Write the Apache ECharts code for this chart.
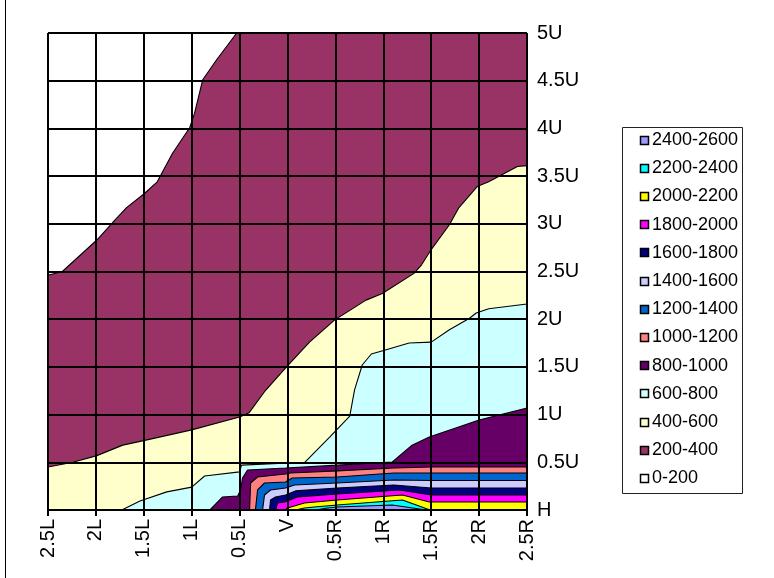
<!DOCTYPE html>
<html>
<head>
<meta charset="utf-8">
<script src="https://cdn.jsdelivr.net/npm/echarts@6/dist/echarts.min.js"></script>
<style>
  html, body { margin: 0; padding: 0; background: #fff; }
  #chart { width: 774px; height: 578px; }
</style>
</head>
<body>
<div id="chart"></div>
<script>
// Axis tick labels
const xLabels = ['2.5L', '2L', '1.5L', '1L', '0.5L', 'V', '0.5R', '1R', '1.5R', '2R', '2.5R'];
const yLabels = ['H', '0.5U', '1U', '1.5U', '2U', '2.5U', '3U', '3.5U', '4U', '4.5U', '5U'];

// Contour bands, lowest value first
const levels = ['0-200', '200-400', '400-600', '600-800', '800-1000', '1000-1200', '1200-1400',
                '1400-1600', '1600-1800', '1800-2000', '2000-2200', '2200-2400', '2400-2600'];
const colors = ['#FFFFFF', '#993366', '#FFFFCC', '#CCFFFF', '#660066', '#FF8080', '#0066CC',
                '#CCCCFF', '#000080', '#FF00FF', '#FFFF00', '#00FFFF', '#9999FF'];

// Upper edge of each band's region (value >= lower bound lies below the edge), [x, y]
const edge0 = [[-2.5, 5], [2.5, 5]];
const edge200 = [[-2.5, 2.46], [-2.35, 2.5], [-1.99, 2.83], [-1.8, 3.04], [-1.68, 3.17], [-1.49, 3.32],
  [-1.36, 3.44], [-1.2, 3.74], [-1.02, 4.01], [-0.97, 4.16], [-0.885, 4.51], [-0.74, 4.72],
  [-0.53, 5.0], [2.5, 5.0]];
const edge400 = [[-2.5, 0.45], [-2.24, 0.5], [-1.99, 0.57], [-1.72, 0.68], [-1.49, 0.73], [-1.0, 0.84],
  [-0.5, 0.975], [-0.4, 1.02], [-0.24, 1.24], [-0.01, 1.5], [0.23, 1.76], [0.49, 1.99], [0.82, 2.2],
  [0.99, 2.27], [1.32, 2.48], [1.4, 2.57], [1.5, 2.73], [1.69, 2.99], [1.79, 3.17], [1.98, 3.39],
  [2.1, 3.44], [2.4, 3.6], [2.5, 3.61]];
const edge600 = [[-2.5, 0], [-1.73, 0], [-1.54, 0.094], [-1.26, 0.19], [-1.0, 0.24], [-0.865, 0.356],
  [-0.5, 0.4], [-0.48, 0.47], [0.18, 0.5], [0.44, 0.765], [0.65, 0.985], [0.7, 1.26], [0.78, 1.52],
  [0.875, 1.635], [1.03, 1.68], [1.27, 1.75], [1.5, 1.76], [1.69, 1.89], [1.9, 2.01], [1.97, 2.065],
  [2.1, 2.11], [2.5, 2.16]];
const edge800 = [[-2.5, 0], [-0.81, 0], [-0.68, 0.136], [-0.52, 0.147], [-0.49, 0.21], [-0.47, 0.335],
  [-0.417, 0.42], [-0.02, 0.44], [0.52, 0.47], [1.094, 0.503], [1.3, 0.68], [1.48, 0.765],
  [2.0, 0.943], [2.5, 1.07]];
const edge1000 = [[-2.5, 0], [-0.396, 0], [-0.385, 0.283], [-0.3125, 0.346], [-0.02, 0.377],
  [0.03, 0.388], [0.52, 0.41], [1.11, 0.44], [1.5, 0.45], [2.5, 0.45]];
const edge1200 = [[-2.5, 0], [-0.335, 0], [-0.3125, 0.21], [-0.24, 0.283], [-0.02, 0.293],
  [0.05, 0.335], [0.52, 0.346], [1.11, 0.388], [1.5, 0.388], [2.5, 0.388]];
const edge1400 = [[-2.5, 0], [-0.26, 0], [-0.24, 0.157], [-0.177, 0.21], [-0.02, 0.23], [0.073, 0.262],
  [0.52, 0.283], [1.11, 0.314], [1.5, 0.309], [2.5, 0.309]];
const edge1600 = [[-2.5, 0], [-0.1875, 0], [-0.177, 0.105], [-0.125, 0.136], [-0.02, 0.157],
  [0.083, 0.2], [0.52, 0.23], [1.11, 0.262], [1.5, 0.23], [2.5, 0.23]];
const edge1800 = [[-2.5, 0], [-0.125, 0], [-0.104, 0.073], [-0.03, 0.084], [0.104, 0.136],
  [0.52, 0.168], [1.17, 0.21], [1.5, 0.157], [2.5, 0.157]];
const edge2000 = [[-2.5, 0], [-0.03, 0], [0, 0.021], [0.177, 0.073], [0.52, 0.105], [1.2, 0.157],
  [1.48, 0.084], [2.5, 0.084]];
const edge2200 = [[-2.5, 0], [0.083, 0], [0.177, 0.021], [0.28, 0.031], [0.52, 0.052], [1.2, 0.105],
  [1.46, 0.01], [1.5, 0], [2.5, 0]];
const edge2400 = [[-2.5, 0], [0.29, 0], [0.417, 0.021], [0.52, 0.031], [1.094, 0.052], [1.45, 0], [2.5, 0]];

const edges = [edge0, edge200, edge400, edge600, edge800, edge1000, edge1200,
               edge1400, edge1600, edge1800, edge2000, edge2200, edge2400];

const FONT = '"Liberation Sans", Arial, sans-serif';

const chart = echarts.init(document.getElementById('chart'), null, { renderer: 'canvas' });

// Each band is an area filled down to the bottom axis; later (higher) bands paint over earlier ones
const series = levels.map((name, i) => ({
  type: 'line',
  name: name,
  data: edges[i],
  showSymbol: false,
  symbol: 'none',
  silent: true,
  animation: false,
  lineStyle: { color: '#000', width: i === 0 ? 0 : 1.1 },
  itemStyle: { color: colors[i] },
  areaStyle: { color: colors[i], opacity: 1, origin: 'start' }
}));

// Legend box: highest band at the top
const legendTop = 127, legendLeft = 622, rowH = 28.2;
const legendItems = [];
levels.slice().reverse().forEach((name, k) => {
  const color = colors[levels.length - 1 - k];
  const cy = 140 + k * rowH;
  legendItems.push({
    type: 'rect',
    shape: { x: 640.5, y: Math.round(cy - 4.5) + 0.5, width: 8, height: 8 },
    style: { fill: color, stroke: '#000', lineWidth: 1.5 }
  });
  legendItems.push({
    type: 'text',
    x: 652, y: cy,
    style: { text: name, font: '18px ' + FONT, fill: '#000', textVerticalAlign: 'middle', textAlign: 'left' }
  });
});

chart.setOption({
  animation: false,
  backgroundColor: '#fff',
  grid: { left: 48, top: 33, right: 247, bottom: 68, containLabel: false },
  xAxis: {
    type: 'value',
    min: -2.5, max: 2.5, interval: 0.5,
    z: 10,
    axisLine: { show: true, onZero: false, lineStyle: { color: '#000', width: 2 } },
    axisTick: { show: true, length: 6, lineStyle: { color: '#000', width: 2 } },
    splitLine: { show: true, lineStyle: { color: '#000', width: 2 } },
    axisLabel: {
      rotate: 90, margin: 9, color: '#000', fontSize: 20, fontFamily: FONT,
      formatter: v => xLabels[Math.round((v + 2.5) * 2)]
    }
  },
  yAxis: {
    type: 'value',
    position: 'right',
    min: 0, max: 5, interval: 0.5,
    z: 10,
    axisLine: { show: true, lineStyle: { color: '#000', width: 2 } },
    axisTick: { show: true, length: 6, lineStyle: { color: '#000', width: 2 } },
    splitLine: { show: true, lineStyle: { color: '#000', width: 2 } },
    axisLabel: {
      margin: 10, color: '#000', fontSize: 20, fontFamily: FONT,
      formatter: v => yLabels[Math.round(v * 2)]
    }
  },
  series: series,
  graphic: [
    {
      type: 'line',
      shape: { x1: 5.5, y1: 0, x2: 5.5, y2: 578 },
      style: { stroke: '#000', lineWidth: 1 }
    },
    {
      type: 'rect',
      shape: { x: legendLeft + 0.5, y: legendTop + 0.5, width: 120, height: 366 },
      style: { fill: '#fff', stroke: '#222', lineWidth: 1 }
    },
    { type: 'group', children: legendItems }
  ]
});
</script>
</body>
</html>
